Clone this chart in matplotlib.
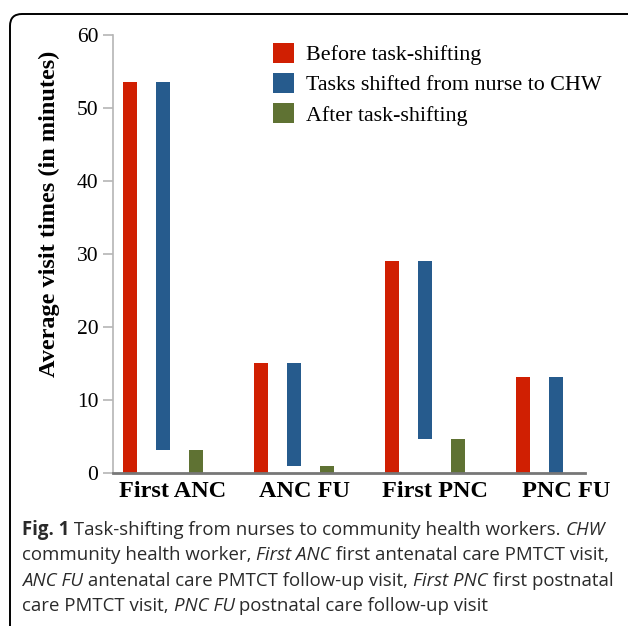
import matplotlib
matplotlib.use("Agg")
import matplotlib.pyplot as plt
import matplotlib.transforms as mtransforms
from matplotlib.patches import FancyBboxPatch, Patch
import numpy as np

# data (minutes)
categories = ["First ANC", "ANC FU", "First PNC", "PNC FU"]
before = [53.5, 15.1, 29.0, 13.2]
after = [3.2, 0.9, 4.6, 0.0]
series_names = ["Before task-shifting", "Tasks shifted from nurse to CHW", "After task-shifting"]
yticks = [0, 10, 20, 30, 40, 50, 60]

red = "#d01f02"
blue = "#265b8d"
green = "#5f7233"

W, H = 628, 626
fig = plt.figure(figsize=(W / 100, H / 100), dpi=100)

# rounded frame around the whole figure (cut on the right and bottom)
frame = FancyBboxPatch((10, -20), 660, 626 - 14 + 20,
                       boxstyle="round,pad=0,rounding_size=12",
                       transform=None, fill=False, edgecolor="black", lw=1.4)
fig.patches.append(frame)

ax = fig.add_axes([113 / W, 1 - 473 / H, (585 - 113) / W, (473 - 35) / H])

x = np.arange(len(categories))
off = 0.252
bw = 0.112
b = np.array(before)
a = np.array(after)

ax.bar(x - off, b, bw, color=red, edgecolor="none")
ax.bar(x, b - a, bw, bottom=a, color=blue, edgecolor="none")
ax.bar(x + off, a, bw, color=green, edgecolor="none")

ax.set_xlim(-0.382, 3.221)
ax.set_ylim(0, 60)
ax.set_yticks(yticks)

serif = "Liberation Serif"
ax.set_xticks(x)
ax.set_xticklabels(categories, fontfamily=serif, fontweight="bold", fontsize=17.5)
ax.tick_params(axis="x", length=0, pad=6)
# labels sit a little right of the group centres in the original
shift = mtransforms.ScaledTranslation(10 / 100, 0, fig.dpi_scale_trans)
for t in ax.get_xticklabels():
    t.set_transform(t.get_transform() + shift)
ax.tick_params(axis="y", direction="out", length=7, width=1.2, color="#b5b5b5",
               pad=3.5, labelsize=15.5)
for t in ax.get_yticklabels():
    t.set_fontfamily(serif)

for s in ["top", "right"]:
    ax.spines[s].set_visible(False)
ax.spines["left"].set_color("#b5b5b5")
ax.spines["left"].set_linewidth(1.2)
ax.spines["bottom"].set_color("#777777")
ax.spines["bottom"].set_linewidth(2)

ax.set_ylabel("Average visit times (in minutes)", fontfamily=serif,
              fontweight="bold", fontsize=17.5)
ax.yaxis.set_label_coords(-0.112, 0.591)

handles = [Patch(facecolor=c, edgecolor="none") for c in (red, blue, green)]
ax.legend(handles, series_names, loc="upper left", bbox_to_anchor=(0.339, 0.982),
          frameon=False, prop={"family": serif, "size": 15.8},
          handlelength=0.95, handleheight=1.0, handletextpad=0.55,
          labelspacing=0.36, borderpad=0, borderaxespad=0)

# caption with mixed bold / italic runs
cap_font = "Open Sans"
cap_size = 13.4
lines = [
    [("Fig. 1", "bold", "normal"),
     (" Task-shifting from nurses to community health workers. ", "normal", "normal"),
     ("CHW", "normal", "italic")],
    [("community health worker, ", "normal", "normal"),
     ("First ANC", "normal", "italic"),
     (" first antenatal care PMTCT visit,", "normal", "normal")],
    [("ANC FU", "normal", "italic"),
     (" antenatal care PMTCT follow-up visit, ", "normal", "normal"),
     ("First PNC", "normal", "italic"),
     (" first postnatal", "normal", "normal")],
    [("care PMTCT visit, ", "normal", "normal"),
     ("PNC FU", "normal", "italic"),
     (" postnatal care follow-up visit", "normal", "normal")],
]
baselines = [535, 560.5, 586, 611]

renderer = fig.canvas.get_renderer()
for runs, yb in zip(lines, baselines):
    xp = 22
    for txt, wt, st in runs:
        t = fig.text(xp / W, 1 - yb / H, txt, fontfamily=cap_font, fontsize=cap_size,
                     fontweight=wt, fontstyle=st, color="#2a2a2a",
                     va="baseline", ha="left")
        ext = t.get_window_extent(renderer)
        xp += ext.width

fig.savefig("out.png", dpi=100)
